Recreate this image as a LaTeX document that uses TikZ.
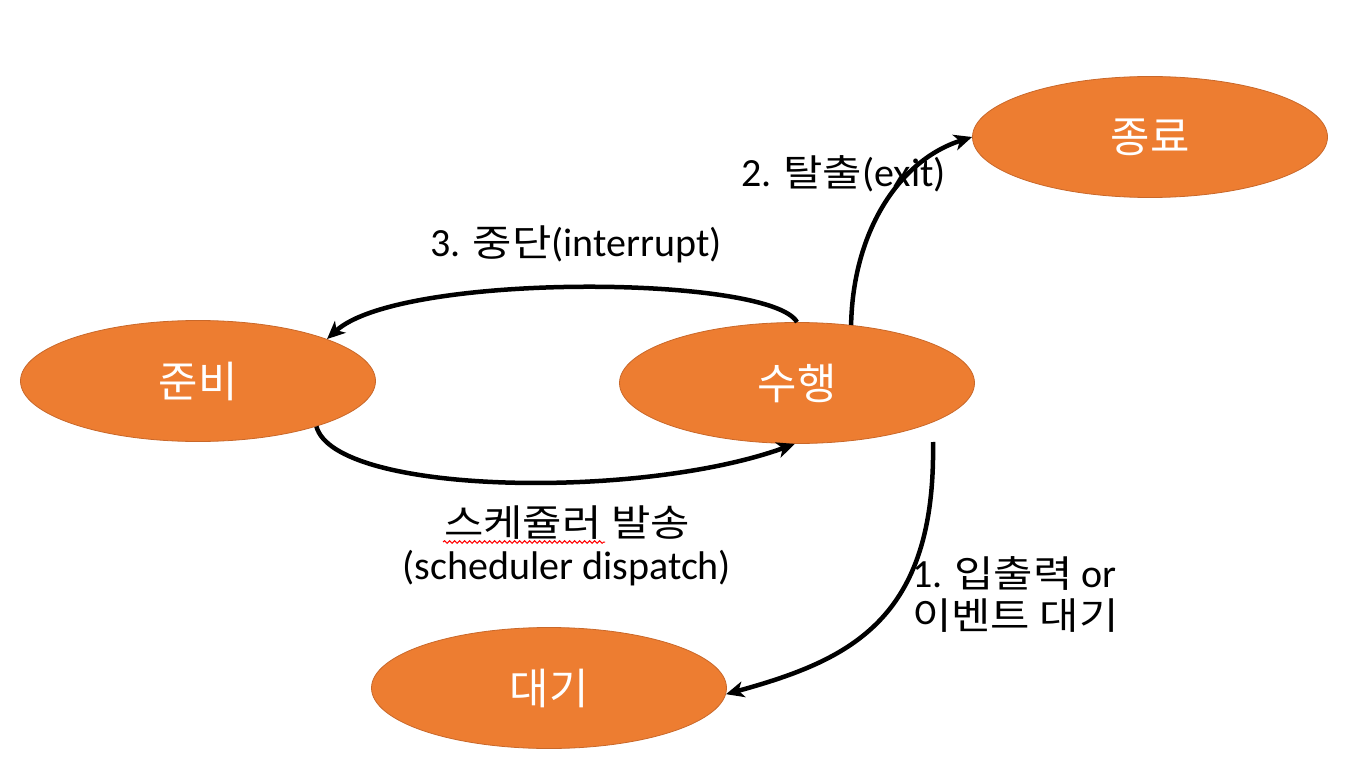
\documentclass[tikz,border=0pt]{standalone}
\usepackage{fontspec}
\setmainfont{Carlito}
\newfontfamily\kr{Noto Sans CJK KR}[Scale=0.93,FakeStretch=1.15]
\newfontfamily\krn{Noto Sans CJK KR}[Scale=1.07]
\usetikzlibrary{shapes.geometric,arrows.meta,decorations.pathmorphing}
\definecolor{stateorange}{HTML}{ED7D31}
\definecolor{stateedge}{HTML}{C9682A}
\begin{document}
\begin{tikzpicture}[x=1pt,y=-1pt,
  state/.style={ellipse,fill=stateorange,draw=stateedge,line width=0.8pt,
    minimum width=355pt,minimum height=121pt,inner sep=0pt,
    text=white,font=\fontsize{40}{42}\selectfont\krn},
  conn/.style={line width=4.5pt,-{Stealth[length=18pt,width=16pt,inset=5pt]}},
  lbl/.style={inner sep=0pt,font=\fontsize{40}{38}\selectfont}]
\useasboundingbox (0,0) rectangle (1360,778);
\node[state] (ready) at (198,381) {준비};
\node[state] (run)   at (797,383) {수행};
\node[state] (done)  at (1150,137) {종료};
\node[state] (wait)  at (549,688) {대기};
\coordinate (ioStart) at (933,442);
% interrupt
\draw[conn] (run.90) .. controls (770,275) and (400,272) .. (ready.18);
% dispatch
\draw[conn] (ready.-21) .. controls (335,495) and (640,500) .. (run.268);
% exit
\draw[conn] (run.47) .. controls (853,230) and (900,160) .. (done.180);
% io wait
\draw[conn] (ioStart) .. controls (936,620) and (850,660) .. (wait.-2);
% labels
\node[lbl,anchor=base] (l3) at (576,257) {3. {\kr 중단}(interrupt)};
\node[lbl,anchor=base west] (l2) at (741,187) {2. {\kr 탈출}(exit)};
\node[lbl,anchor=base,align=center,font=\fontsize{40}{43}\selectfont] (ls) at (567,579) {{\kr 스케쥴러 발송}\\(scheduler dispatch)};
\node[lbl,anchor=base west,align=left,font=\fontsize{40}{42}\selectfont] (l1) at (912,629) {1. {\kr 입출력} or\\{\kr 이벤트 대기}};
\draw[red,line width=1pt,decorate,decoration={snake,segment length=5pt,amplitude=1.3pt}] (443,542) -- (605,542);
\end{tikzpicture}
\end{document}
